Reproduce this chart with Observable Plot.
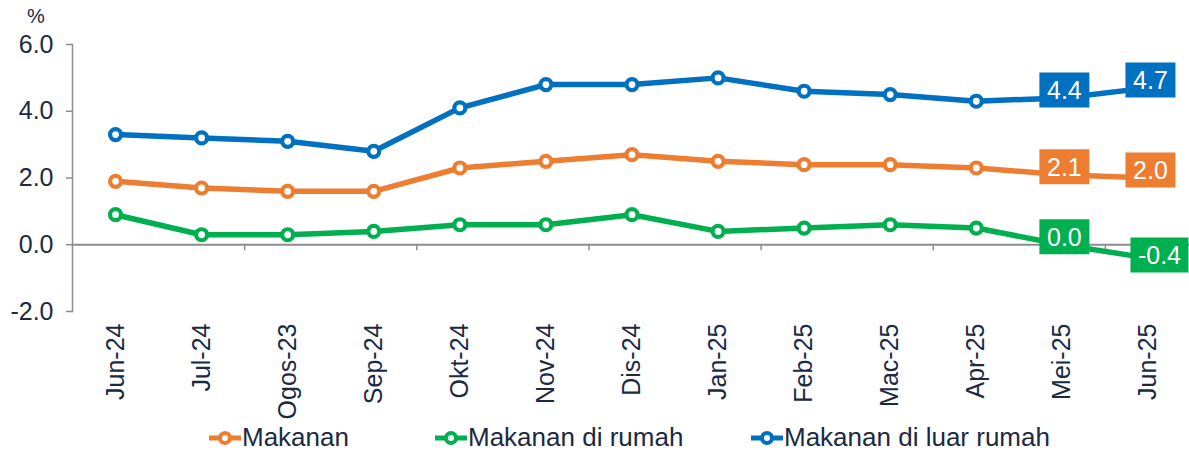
<!DOCTYPE html>
<html>
<head>
<meta charset="utf-8">
<script src="https://cdn.jsdelivr.net/npm/d3@7"></script>
<script src="https://cdn.jsdelivr.net/npm/@observablehq/plot@0.6"></script>
<style>
  html, body { margin: 0; padding: 0; background: #fff; }
  #wrap { position: relative; width: 1189px; height: 450px; font-family: "Liberation Sans", Arial, sans-serif; color: #1b2a41; }
  #unit { position: absolute; left: 27px; top: 5px; font-size: 20px; }
  #legend { position: absolute; top: 422px; left: 0; width: 1189px; height: 28px; font-size: 26px; }
  .item { position: absolute; display: flex; align-items: center; white-space: nowrap; }
  .item svg { display: block; }
</style>
</head>
<body>
<div id="wrap">
  <div id="chart"></div>
  <div id="unit">%</div>
  <div id="legend"></div>
</div>
<script>
const months = ["Jun-24","Jul-24","Ogos-23","Sep-24","Okt-24","Nov-24","Dis-24","Jan-25","Feb-25","Mac-25","Apr-25","Mei-25","Jun-25"];
const seriesNames = ["Makanan","Makanan di rumah","Makanan di luar rumah"];
const seriesColors = ["#ed7d31","#00b050","#0070c0"];
const makanan = [1.9, 1.7, 1.6, 1.6, 2.3, 2.5, 2.7, 2.5, 2.4, 2.4, 2.3, 2.1, 2.0];
const makananDiRumah = [0.9, 0.3, 0.3, 0.4, 0.6, 0.6, 0.9, 0.4, 0.5, 0.6, 0.5, 0.0, -0.4];
const makananDiLuarRumah = [3.3, 3.2, 3.1, 2.8, 4.1, 4.8, 4.8, 5.0, 4.6, 4.5, 4.3, 4.4, 4.7];
const yTicks = [-2, 0, 2, 4, 6];
const labelledMonths = ["Mei-25","Jun-25"];

const seriesValues = [makanan, makananDiRumah, makananDiLuarRumah];
const data = [];
seriesNames.forEach((s, k) => months.forEach((m, i) => data.push({series: s, month: m, value: seriesValues[k][i]})));
const labelData = data.filter(d => labelledMonths.includes(d.month));
const fmt = v => v.toFixed(1);

const W = 1189, H = 420, ML = 72, MR = -2;
const step = (W - ML - MR) / months.length;
const boundaryTicks = months.filter((m, i) => i % 2 === 1 && i < months.length - 1);

const boxSymbol = (w, h) => ({draw(ctx) { ctx.rect(-w / 2, -h / 2, w, h); }});

const textColor = "#1b2a41";
const chart = Plot.plot({
  width: W,
  height: H,
  marginLeft: ML,
  marginRight: MR,
  marginTop: 44,
  marginBottom: 109,
  style: {fontFamily: "Liberation Sans, Arial, sans-serif", color: textColor, background: "#fff", overflow: "visible"},
  x: {type: "band", domain: months, padding: 0, round: false},
  y: {domain: [-2, 6]},
  color: {domain: seriesNames, range: seriesColors},
  marks: [
    Plot.frame({anchor: "left", stroke: "#8c8c8c", strokeWidth: 1.5}),
    Plot.axisY({ticks: yTicks, tickFormat: fmt, tickSize: 6, tickPadding: 13, fontSize: 25, stroke: "#8c8c8c", strokeWidth: 1.5, label: null}),
    Plot.axisX({tickSize: 0, tickPadding: 12, tickRotate: -90, fontSize: 25, label: null}),
    Plot.ruleY([0], {stroke: "#8c8c8c", strokeWidth: 2}),
    Plot.ruleX(boundaryTicks, {x: d => d, y1: 0, y2: 0, insetBottom: -6, dx: step / 2, stroke: "#8c8c8c", strokeWidth: 1.5}),
    Plot.line(data, {x: "month", y: "value", z: "series", stroke: "series", strokeWidth: 5.5}),
    Plot.dot(data, {x: "month", y: "value", stroke: "series", fill: "white", r: 5.5, strokeWidth: 4.2}),
    Plot.dot(labelData.filter(d => d.value >= 0), {x: "month", y: "value", fill: "series", symbol: boxSymbol(50, 35), dy: -8, dx: 2}),
    Plot.dot(labelData.filter(d => d.value < 0), {x: "month", y: "value", fill: "series", symbol: boxSymbol(58, 35), dy: -3, dx: 11}),
    Plot.text(labelData.filter(d => d.value >= 0), {x: "month", y: "value", text: d => fmt(d.value), fill: "white", fontSize: 25, dy: -7, dx: 2}),
    Plot.text(labelData.filter(d => d.value < 0), {x: "month", y: "value", text: d => fmt(d.value), fill: "white", fontSize: 25, dy: -2, dx: 11})
  ]
});
document.getElementById("chart").appendChild(chart);

const legend = document.getElementById("legend");
const legendLeft = [208, 434, 750];
seriesNames.forEach((s, k) => {
  const item = document.createElement("div");
  item.className = "item";
  item.style.left = legendLeft[k] + "px";
  item.innerHTML = `<svg width="34" height="28"><line x1="1" x2="33" y1="14" y2="14" stroke="${seriesColors[k]}" stroke-width="5"/><circle cx="17" cy="14" r="5" fill="white" stroke="${seriesColors[k]}" stroke-width="4"/></svg><span>${s}</span>`;
  legend.appendChild(item);
});
</script>
</body>
</html>
